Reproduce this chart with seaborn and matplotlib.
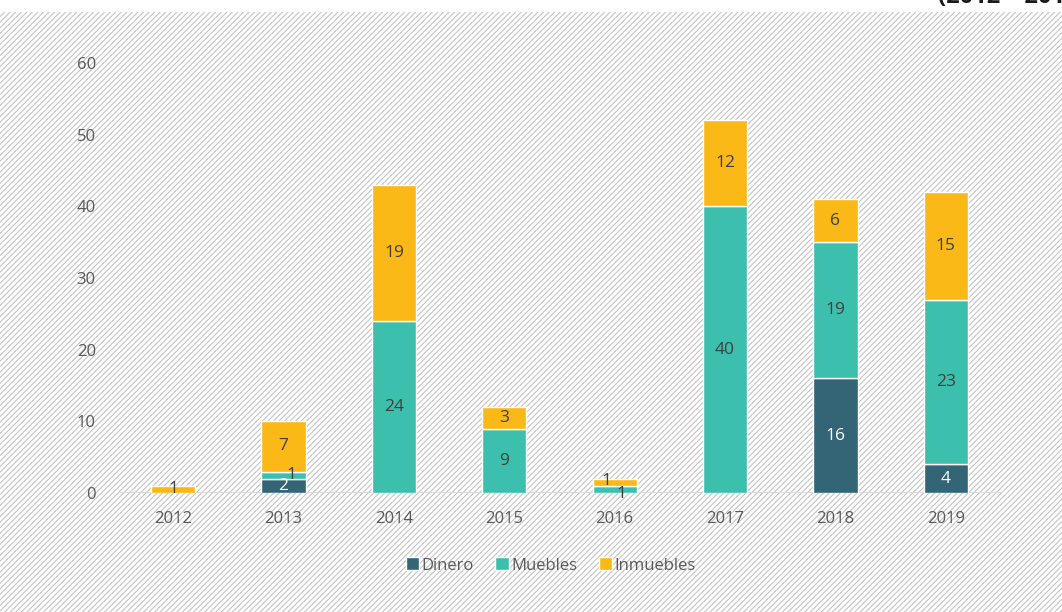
import numpy as np
import pandas as pd
import matplotlib
matplotlib.use('Agg')
import matplotlib.pyplot as plt
import seaborn as sns
from matplotlib.patches import Rectangle

years = ['2012', '2013', '2014', '2015', '2016', '2017', '2018', '2019']
dinero = [0, 2, 0, 0, 0, 0, 16, 4]
muebles = [0, 1, 24, 9, 1, 40, 19, 23]
inmuebles = [1, 7, 19, 3, 1, 12, 6, 15]

series = ['Dinero', 'Muebles', 'Inmuebles']
colors = ['#336577', '#3dbfad', '#fbb917']
label_colors = ['white', '#404040', '#404040']

# small nudges (points) for labels on thin segments, like Excel does
nudges = {('Muebles', 1): (6, 0), ('Inmuebles', 4): (-6, 1), ('Muebles', 4): (5, -3)}

sns.set_style('white')
plt.rcParams['font.family'] = ['Open Sans', 'DejaVu Sans']
plt.rcParams['hatch.linewidth'] = 0.8
plt.rcParams['hatch.color'] = '#c4c4c4'

fig = plt.figure(figsize=(10.62, 6.12), dpi=100)
fig.patch.set_facecolor('white')
# hatched background panel
bg = Rectangle((0, 0), 1, 1 - 12 / 612, transform=fig.transFigure,
               facecolor='white', edgecolor='#c4c4c4', hatch='//////',
               linewidth=0, zorder=-10)
fig.patches.append(bg)

ax = fig.add_axes([118 / 1062, 1 - 493 / 612, (1001 - 118) / 1062, (493 - 63) / 612])
ax.patch.set_alpha(0)

df = pd.DataFrame({'year': years, 'Dinero': dinero, 'Muebles': muebles, 'Inmuebles': inmuebles})
bottom = np.zeros(len(years))
for name, col, lc in zip(series, colors, label_colors):
    vals = df[name].to_numpy()
    sns.barplot(x=df['year'], y=vals, bottom=bottom, color=col, width=0.4,
                ax=ax, label=name, saturation=1, zorder=3)
    for i, v in enumerate(vals):
        if v > 0:
            dx, dy = nudges.get((name, i), (0, 0))
            ax.annotate(str(v), (i, bottom[i] + v / 2), xytext=(dx, dy),
                        textcoords='offset points', ha='center', va='center',
                        fontsize=12.5, color=lc, zorder=4)
    bottom = bottom + vals

ax.set_xlim(-0.5, 7.5)
ax.set_ylim(0, 60)
ax.set_yticks(range(0, 61, 10))
ax.set_xlabel('')
ax.set_ylabel('')
for s in ax.spines.values():
    s.set_visible(False)
ax.axhline(0, color='#d9d9d9', lw=2, zorder=2)
ax.tick_params(axis='both', length=0, labelsize=12, labelcolor='#595959')
ax.tick_params(axis='y', pad=16)
ax.tick_params(axis='x', pad=13)

leg = ax.legend(loc='upper center', bbox_to_anchor=(0.49, -0.115), ncol=3, frameon=False,
                fontsize=12, handlelength=0.8, handleheight=0.8, handletextpad=0.15,
                columnspacing=1.3)
for t in leg.get_texts():
    t.set_color('#595959')

fig.text(938 / 1062, 1 + 3 / 612, '(2012 – 2019)', ha='left', va='center',
         fontsize=17, fontweight='bold', color='#1a1a1a')

fig.savefig('out.png', dpi=100)
